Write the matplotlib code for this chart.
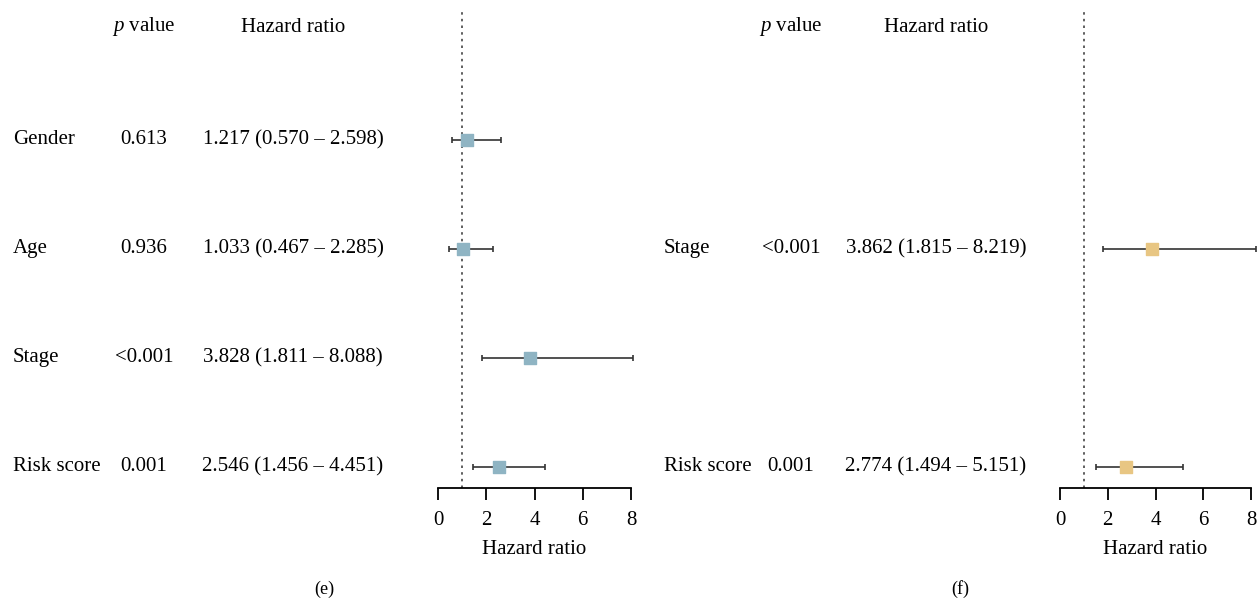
import matplotlib.pyplot as plt
from matplotlib.transforms import blended_transform_factory

plt.rcParams['font.family'] = ['Liberation Serif', 'DejaVu Serif']
plt.rcParams['mathtext.fontset'] = 'custom'
plt.rcParams['mathtext.it'] = 'Liberation Serif:italic'
plt.rcParams['mathtext.rm'] = 'Liberation Serif'

# panel (e)
vars_e = ['Gender', 'Age', 'Stage', 'Risk score']
p_e = ['0.613', '0.936', '<0.001', '0.001']
hr_e = [1.217, 1.033, 3.828, 2.546]
lo_e = [0.570, 0.467, 1.811, 1.456]
hi_e = [2.598, 2.285, 8.088, 4.451]
rows_e = [4, 3, 2, 1]

# panel (f)
vars_f = ['Stage', 'Risk score']
p_f = ['<0.001', '0.001']
hr_f = [3.862, 2.774]
lo_f = [1.815, 1.494]
hi_f = [8.219, 5.151]
rows_f = [3, 1]

W, H = 1257, 599
fig = plt.figure(figsize=(W / 100, H / 100), dpi=100)
fs = 15


def px(x):
    return x / W


def panel(left, right, cols, names, pvals, hr, lo, hi, rows, color, caption, capx):
    ax = fig.add_axes([px(left), 1 - 488 / H, px(right - left), (488 - 12) / H])
    ax.set_xlim(0, 8)
    ax.set_ylim(0.807, 5.174)
    for s in ['top', 'left', 'right']:
        ax.spines[s].set_visible(False)
    ax.spines['bottom'].set_linewidth(1.3)
    ax.set_yticks([])
    ax.set_xticks([0, 2, 4, 6, 8])
    ax.tick_params(axis='x', direction='out', length=8.6, width=1.3, labelsize=fs, pad=8)
    ax.set_xlabel('Hazard ratio', fontsize=fs, labelpad=7)
    ax.axvline(1, color='#444444', ls=(0, (1.5, 2.5)), lw=1.2)
    xerr = [[h - l for h, l in zip(hr, lo)], [u - h for h, u in zip(hr, hi)]]
    ax.errorbar(hr, rows, xerr=xerr, fmt='none', ecolor='#333333', elinewidth=1.2,
                capsize=2.5, capthick=1.2, clip_on=False)
    ax.scatter(hr, rows, marker='s', s=78, color=color, zorder=3, clip_on=False)

    xl, xp, xh = cols
    tr = blended_transform_factory(fig.transFigure, ax.transData)
    fig.text(px(xp), 1 - 27 / H, r'$\it{p}$ value', ha='center', va='center', fontsize=fs)
    fig.text(px(xh), 1 - 27 / H, 'Hazard ratio', ha='center', va='center', fontsize=fs)
    for n, p, h, l, u, r in zip(names, pvals, hr, lo, hi, rows):
        ax.text(px(xl), r, n, transform=tr, ha='left', va='center', fontsize=fs)
        ax.text(px(xp), r, p, transform=tr, ha='center', va='center', fontsize=fs)
        ax.text(px(xh), r, f'{h:.3f} ({l:.3f} \u2013 {u:.3f})', transform=tr,
                ha='center', va='center', fontsize=fs)
    fig.text(px(capx), 1 - 589 / H, caption, ha='center', va='center', fontsize=13)
    return ax


panel(438, 631, (13, 144, 293), vars_e, p_e, hr_e, lo_e, hi_e, rows_e, '#8fb4c3', '(e)', 324)
panel(1060, 1251, (664, 791, 936), vars_f, p_f, hr_f, lo_f, hi_f, rows_f, '#e8c683', '(f)', 960)

fig.savefig('out.png', dpi=100)
